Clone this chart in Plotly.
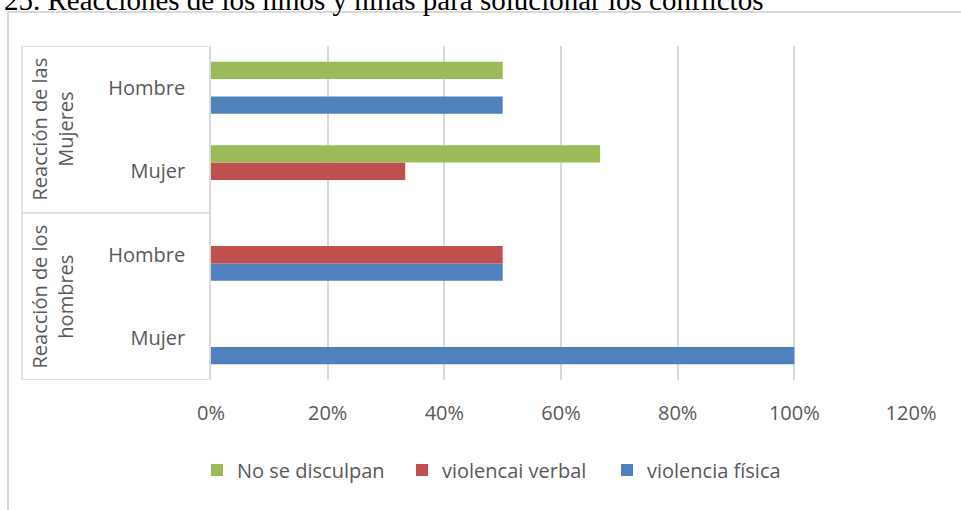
import plotly.graph_objects as go

# Category hierarchy (listed bottom to top, as drawn on the y axis)
groups = ["Reacción de los hombres", "Reacción de los hombres",
          "Reacción de las Mujeres", "Reacción de las Mujeres"]
subgroups = ["Mujer", "Hombre", "Mujer", "Hombre"]
group_labels = ["Reacción de los<br>hombres", "Reacción de las<br>Mujeres"]

# Series values (share of responses)
violencia_fisica = [1.00, 0.50, 0.0, 0.50]
violencai_verbal = [0.0, 0.50, 0.333, 0.0]
no_se_disculpan = [0.0, 0.0, 0.667, 0.50]

x_ticks = [0, 0.2, 0.4, 0.6, 0.8, 1.0, 1.2]
title_text = "25. Reacciones de los niños y niñas para solucionar los conflictos"

# Unique category keys; the visible tick text is the subgroup only
keys = [f"{g} | {s}" for g, s in zip(groups, subgroups)]

W, H = 961, 510
L, R, T, B = 211, 50, 46, 130
pw, ph = W - L - R, H - T - B


def px_x(px):
    return (px - L) / pw


def px_y(py):
    return (H - B - py) / ph


font_family = "Open Sans"
txt_color = "#595959"
grid_color = "#D9D9D9"

fig = go.Figure()
series = [
    ("violencia física", violencia_fisica, "#4F81BD"),
    ("violencai verbal", violencai_verbal, "#C0504D"),
    ("No se disculpan", no_se_disculpan, "#9BBB59"),
]
for name, vals, color in series:
    fig.add_trace(go.Bar(
        y=keys, x=vals, name=name, orientation="h",
        marker=dict(color=color, line=dict(width=0)),
    ))

shapes = []
# Outer chart frame
shapes.append(dict(type="rect", xref="paper", yref="paper",
                   x0=px_x(8), x1=px_x(975), y0=px_y(525), y1=px_y(12),
                   line=dict(color=grid_color, width=2), layer="below"))
# Group separators in the category label area
for yv in (-0.5, 1.5, 3.5):
    shapes.append(dict(type="line", xref="paper", yref="y",
                       x0=px_x(22), x1=0, y0=yv, y1=yv,
                       line=dict(color=grid_color, width=1.5)))
shapes.append(dict(type="line", xref="paper", yref="y",
                   x0=px_x(22), x1=px_x(22), y0=-0.5, y1=3.5,
                   line=dict(color=grid_color, width=1.5)))

annotations = []
for i, lab in enumerate(group_labels):
    annotations.append(dict(
        text=lab, xref="paper", yref="y", x=px_x(52), y=2 * i + 0.5,
        textangle=-90, showarrow=False, xanchor="center", yanchor="middle",
        font=dict(family=font_family, size=20, color=txt_color),
    ))
annotations.append(dict(
    text=title_text, xref="paper", yref="paper",
    x=px_x(765), y=px_y(0.5), xanchor="right", yanchor="middle",
    showarrow=False,
    font=dict(family="Liberation Serif", size=29, color="#000000"),
))

fig.update_layout(
    width=W, height=H,
    margin=dict(l=L, r=R, t=T, b=B, pad=0),
    paper_bgcolor="white", plot_bgcolor="white",
    barmode="group", bargap=0.38, bargroupgap=0,
    font=dict(family=font_family, size=20, color=txt_color),
    showlegend=True,
    legend=dict(orientation="h", traceorder="reversed",
                x=px_x(197), y=px_y(470), xanchor="left", yanchor="middle",
                entrywidth=160, entrywidthmode="pixels",
                font=dict(family=font_family, size=20, color=txt_color),
                bgcolor="rgba(0,0,0,0)"),
    shapes=shapes, annotations=annotations,
)
fig.update_xaxes(range=[0, 1.2], tickvals=x_ticks, tickformat=".0%",
                 showgrid=True, gridcolor=grid_color, gridwidth=1.5,
                 zeroline=False, showline=False, ticks="",
                 ticklabelstandoff=19, fixedrange=True)
fig.update_yaxes(type="category", categoryorder="array", categoryarray=keys,
                 range=[-0.5, 3.5], tickvals=keys, ticktext=subgroups,
                 showgrid=False, zeroline=False, showline=True,
                 linecolor=grid_color, linewidth=1.5, ticks="",
                 ticklabelstandoff=20, fixedrange=True)

fig.write_html("out.html")
